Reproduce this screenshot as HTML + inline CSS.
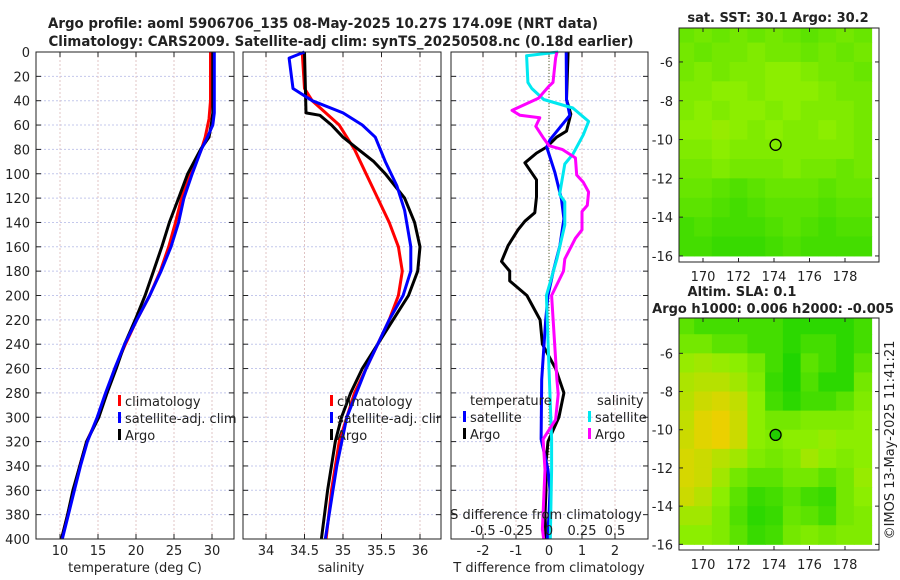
<!DOCTYPE html>
<html><head><meta charset="utf-8">
<style>
html,body{margin:0;padding:0;background:#fff;}
svg{display:block;font-family:"DejaVu Sans","Liberation Sans",sans-serif;}
</style></head>
<body>
<svg id="c" width="900" height="580" viewBox="0 0 900 580" xmlns="http://www.w3.org/2000/svg"></svg>
<script>
// ---------- data ----------
const depthTicks = [0,20,40,60,80,100,120,140,160,180,200,220,240,260,280,300,320,340,360,380,400];
const tempTicks = [10,15,20,25,30];
const salTicks = [34,34.5,35,35.5,36];
const tdiffTicks = [-2,-1,0,1,2];
const sdiffTicks = [-0.5,-0.25,0,0.25,0.5];
const sdiffTickLabels = ['-0.5','-0.25','0','0.25','0.5'];

const tClimDepth = [0,40,55,70,80,100,120,140,160,180,200,220,240,260,280,300,320,340,360,380,400];
const tClimVal   = [29.8,29.8,29.6,29.1,28.6,27.2,26.0,25.2,24.3,23.2,21.8,20.1,18.6,17.2,16.1,15.0,13.5,12.6,11.8,11.0,10.2];
const tSatDepth  = [0,50,60,70,80,100,120,140,160,180,200,220,240,260,280,300,320,340,360,380,400];
const tSatVal    = [30.3,30.3,30.1,29.4,28.6,27.4,26.3,25.6,24.6,23.3,21.8,20.1,18.5,17.2,16.0,14.9,13.6,12.7,11.9,11.1,10.3];
const tArgoDepth = [0,50,60,70,80,100,120,140,160,180,200,220,240,260,280,300,320,340,360,380,400];
const tArgoVal   = [30.1,30.1,29.9,29.6,28.5,26.8,25.6,24.4,23.4,22.3,21.2,19.9,18.5,17.4,16.2,15.1,13.5,12.6,11.7,11.0,10.2];

const sClimDepth = [0,30,40,60,80,100,120,140,160,180,200,220,240,260,280,300,320,360,400];
const sClimVal   = [34.47,34.5,34.6,34.95,35.15,35.3,35.45,35.6,35.72,35.77,35.72,35.6,35.45,35.3,35.15,35.05,34.95,34.85,34.78];
const sSatDepth  = [0,5,30,40,50,60,70,90,110,130,160,180,200,220,260,300,340,400];
const sSatVal    = [34.5,34.3,34.35,34.6,35.0,35.25,35.42,35.55,35.7,35.8,35.88,35.88,35.78,35.6,35.3,35.05,34.92,34.77];
const sArgoDepth = [0,50,52,60,70,80,90,100,120,140,160,180,200,220,240,260,280,300,320,360,400];
const sArgoVal   = [34.5,34.52,34.7,34.85,35.0,35.2,35.4,35.55,35.8,35.93,36.0,35.97,35.85,35.65,35.45,35.25,35.1,34.98,34.9,34.8,34.72];

const dTSatDepth = [0,39,52,72,78,99,121,137,159,180,200,220,269,318,343,360,380,400];
const dTSatVal   = [0.52,0.53,0.63,0.03,-0.07,0.18,0.38,0.45,0.33,0.13,-0.03,-0.1,-0.22,-0.24,-0.03,0.03,0.0,-0.05];
const dTArgoDepth = [0,39,51,65,70,78,83,91,105,119,132,139,146,159,172,180,188,200,220,240,260,280,300,320,340,360,380,400];
const dTArgoVal   = [0.58,0.53,0.66,0.53,0.23,-0.07,-0.38,-0.73,-0.38,-0.38,-0.43,-0.73,-0.94,-1.24,-1.44,-1.19,-1.19,-0.67,-0.27,-0.2,0.2,0.45,0.3,-0.03,-0.1,-0.09,-0.12,-0.09];
const dSSatDepth = [0,3,25,30,39,46,57,68,84,92,117,123,142,170,200,260,318,343,400];
const dSSatVal   = [0.07,-0.17,-0.16,-0.13,-0.04,0.18,0.30,0.26,0.18,0.12,0.08,0.12,0.12,0.06,-0.02,0.0,0.02,0.02,0.01];
const dSArgoDepth = [0,5,25,28,38,48,52,54,61,71,77,80,87,101,107,115,126,131,146,153,170,180,200,269,281,302,318,343,392,400];
const dSArgoVal   = [0.06,0.05,0.03,0.0,-0.08,-0.28,-0.22,-0.07,-0.1,-0.04,0.0,0.1,0.2,0.21,0.26,0.3,0.29,0.25,0.25,0.2,0.12,0.11,0.02,0.06,0.07,0.05,-0.045,-0.03,-0.05,-0.04];

const lonTicks = [170,172,174,176,178];
const latTicks = [-6,-8,-10,-12,-14,-16];
// map grids: rows from north (-4.5) to south (-15.5), cols lon 169..179 (value 0=green,1=yellow)
const sstGrid = [
 [0.35,0.4,0.35,0.4,0.35,0.4,0.35,0.3,0.35,0.4,0.35],
 [0.4,0.35,0.4,0.4,0.45,0.4,0.4,0.35,0.4,0.35,0.4],
 [0.4,0.45,0.4,0.45,0.45,0.5,0.5,0.45,0.4,0.4,0.35],
 [0.45,0.45,0.5,0.5,0.45,0.5,0.5,0.5,0.45,0.4,0.4],
 [0.45,0.5,0.45,0.5,0.5,0.45,0.5,0.45,0.45,0.45,0.4],
 [0.5,0.5,0.55,0.5,0.45,0.5,0.45,0.45,0.5,0.45,0.4],
 [0.45,0.45,0.5,0.45,0.45,0.45,0.45,0.45,0.45,0.45,0.4],
 [0.4,0.4,0.45,0.4,0.4,0.4,0.45,0.4,0.4,0.35,0.4],
 [0.35,0.35,0.3,0.25,0.3,0.35,0.35,0.35,0.3,0.35,0.35],
 [0.3,0.3,0.25,0.2,0.25,0.3,0.3,0.3,0.25,0.3,0.3],
 [0.2,0.25,0.2,0.2,0.2,0.25,0.3,0.25,0.2,0.25,0.25],
 [0.2,0.2,0.15,0.15,0.15,0.2,0.25,0.2,0.2,0.2,0.2]];
const slaGrid = [
 [0.3,0.2,0.2,0.2,0.2,0.2,0.1,0.1,0.1,0.1,0.2],
 [0.4,0.4,0.3,0.3,0.2,0.2,0.1,0.2,0.2,0.1,0.2],
 [0.55,0.6,0.55,0.5,0.4,0.2,0.05,0.3,0.2,0.1,0.3],
 [0.65,0.7,0.7,0.6,0.45,0.15,0.05,0.25,0.1,0.1,0.4],
 [0.7,0.8,0.85,0.75,0.5,0.2,0.1,0.2,0.2,0.3,0.45],
 [0.75,0.9,0.95,0.8,0.5,0.4,0.4,0.45,0.45,0.45,0.5],
 [0.8,0.9,0.95,0.8,0.5,0.45,0.5,0.5,0.55,0.5,0.5],
 [0.85,0.8,0.7,0.6,0.45,0.4,0.45,0.6,0.5,0.45,0.5],
 [0.85,0.8,0.6,0.4,0.3,0.3,0.4,0.4,0.3,0.4,0.55],
 [0.8,0.7,0.5,0.3,0.15,0.2,0.3,0.2,0.15,0.4,0.5],
 [0.6,0.6,0.45,0.25,0.1,0.15,0.35,0.3,0.2,0.4,0.45],
 [0.5,0.5,0.45,0.3,0.15,0.2,0.4,0.45,0.4,0.45,0.45]];
const argoLon = 174.09, argoLat = -10.27;

// ---------- helpers ----------
const svg = document.getElementById('c');
const NS = 'http://www.w3.org/2000/svg';
function el(tag, attrs, parent){
  const e = document.createElementNS(NS, tag);
  for (const k in attrs) e.setAttribute(k, attrs[k]);
  (parent||svg).appendChild(e);
  return e;
}
function txt(x,y,s,size,anchor,weight,parent){
  const t = el('text',{x:x,y:y,'font-size':size,'text-anchor':anchor||'middle','font-weight':weight||'normal',fill:'#222'},parent);
  t.textContent = s; return t;
}
const Y0 = 52, Y1 = 539;
const yD = d => Y0 + d*(Y1-Y0)/400;
const P1 = {l:36,r:234}, P2 = {l:243,r:441}, P3 = {l:451,r:648};
const xT = v => 60 + (v-10)*7.6;
const xS = v => 266 + (v-34)*77.0;
const xDT = v => 549 + v*33;
const xDS = v => 549 + v*132;

function panelFrame(P, name){
  const g = el('g',{});
  
  
  depthTicks.forEach(d=>{
    el('line',{x1:P.l,x2:P.r,y1:yD(d),y2:yD(d),stroke:'#c4c8ec','stroke-width':1,'stroke-dasharray':'2,2'},g);
    el('line',{x1:P.l,x2:P.l+5,y1:yD(d),y2:yD(d),stroke:'#222'},g);
    el('line',{x1:P.r-5,x2:P.r,y1:yD(d),y2:yD(d),stroke:'#222'},g);
  });
  return g;
}
function vgrid(g,P,xs){
  xs.forEach(x=>{
    el('line',{x1:x,x2:x,y1:Y0,y2:Y1,stroke:'#e0c4c4','stroke-width':1,'stroke-dasharray':'2,2'},g);
    el('line',{x1:x,x2:x,y1:Y1-5,y2:Y1,stroke:'#222'},g);
    el('line',{x1:x,x2:x,y1:Y0,y2:Y0+5,stroke:'#222'},g);
  });
}
function border(g,P){
  el('rect',{x:P.l,y:Y0,width:P.r-P.l,height:Y1-Y0,fill:'none',stroke:'#222','stroke-width':1},g);
}
function series(g,depths,vals,xf,color,name,w){
  const pts = depths.map((d,i)=>xf(vals[i]).toFixed(1)+','+yD(d).toFixed(1)).join(' ');
  const p = el('polyline',{points:pts,fill:'none',stroke:color,'stroke-width':w||3,'stroke-linejoin':'round'},g);
  
  
}
function legendEntry(g,x,y,color,label,name){
  const le = el('g',{},g);
  
  
  el('rect',{x:x,y:y-11,width:3,height:11,fill:color},le);
  txt(x+7,y,label,13,'start','normal',le);
}

// titles
const t1 = txt(323,28,'Argo profile: aoml 5906706_135 08-May-2025 10.27S 174.09E (NRT data)',14,'middle','bold');
t1.setAttribute('textLength','550'); t1.setAttribute('lengthAdjust','spacingAndGlyphs');
 
const t2 = txt(341,46,'Climatology: CARS2009. Satellite-adj clim: synTS_20250508.nc (0.18d earlier)',14,'middle','bold');
t2.setAttribute('textLength','585'); t2.setAttribute('lengthAdjust','spacingAndGlyphs');
 

// ---------- panel 1: temperature ----------
const g1 = panelFrame(P1,'temperature-panel');
vgrid(g1,P1,tempTicks.map(xT));
depthTicks.forEach(d=>{ txt(30,yD(d)+5,String(d),13,'end','normal',g1); });
tempTicks.forEach(v=>{ txt(xT(v),555,String(v),13,'middle','normal',g1); });
const xl1 = txt(135,572,'temperature (deg C)',13,'middle','normal',g1);
 
series(g1,tClimDepth,tClimVal,xT,'#ff0000','temp-climatology-line');
series(g1,tArgoDepth,tArgoVal,xT,'#000000','temp-argo-line');
series(g1,tSatDepth,tSatVal,xT,'#0000ff','temp-satellite-line');
legendEntry(g1,118,406,'#ff0000','climatology','legend-climatology');
legendEntry(g1,118,423,'#0000ff','satellite-adj. clim','legend-satellite-adj');
legendEntry(g1,118,440,'#000000','Argo','legend-argo');
border(g1,P1);

// ---------- panel 2: salinity ----------
const g2 = panelFrame(P2,'salinity-panel');
vgrid(g2,P2,salTicks.map(xS));
salTicks.forEach(v=>{ txt(xS(v),555,String(v),13,'middle','normal',g2); });
const xl2 = txt(341,572,'salinity',13,'middle','normal',g2);
 
series(g2,sClimDepth,sClimVal,xS,'#ff0000','sal-climatology-line');
series(g2,sArgoDepth,sArgoVal,xS,'#000000','sal-argo-line');
series(g2,sSatDepth,sSatVal,xS,'#0000ff','sal-satellite-line');
legendEntry(g2,330,406,'#ff0000','climatology','legend-climatology-sal');
legendEntry(g2,330,423,'#0000ff','satellite-adj. clim','legend-satellite-adj-sal');
legendEntry(g2,330,440,'#000000','Argo','legend-argo-sal');
border(g2,P2);
el('rect',{x:441.5,y:400,width:9,height:60,fill:'#fff'});
el('line',{x1:441,x2:441,y1:Y0,y2:Y1,stroke:'#222'});

// ---------- panel 3: differences ----------
const g3 = panelFrame(P3,'difference-panel');
vgrid(g3,P3,tdiffTicks.map(xDT));
el('line',{x1:549,x2:549,y1:Y0,y2:Y1,stroke:'#556633','stroke-width':1,'stroke-dasharray':'1,2'},g3);
tdiffTicks.forEach(v=>{ txt(xDT(v),555,String(v),13,'middle','normal',g3); });
const xl3 = txt(549,572,'T difference from climatology',13,'middle','normal',g3);
 
series(g3,dTArgoDepth,dTArgoVal,xDT,'#000000','tdiff-argo-line');
series(g3,dTSatDepth,dTSatVal,xDT,'#0000ff','tdiff-satellite-line');
series(g3,dSSatDepth,dSSatVal,xDS,'#00e8f0','sdiff-satellite-line');
series(g3,dSArgoDepth,dSArgoVal,xDS,'#ff00ff','sdiff-argo-line');
const sl = txt(546,519,'S difference from climatology',13,'middle','normal',g3);
 
sdiffTicks.forEach((v,i)=>{ txt(xDS(v),535,sdiffTickLabels[i],13,'middle','normal',g3); });
txt(470,405,'temperature',13,'start','normal',g3);
legendEntry(g3,463,422,'#0000ff','satellite','legend-tdiff-satellite');
legendEntry(g3,463,439,'#000000','Argo','legend-tdiff-argo');
txt(597,405,'salinity',13,'start','normal',g3);
legendEntry(g3,588,422,'#00e8f0','satellite','legend-sdiff-satellite');
legendEntry(g3,588,439,'#ff00ff','Argo','legend-sdiff-argo');
border(g3,P3);

// ---------- maps ----------
const ML = 679, MR = 879;
const xLon = v => 703 + (v-170)*17.75;
function colorOf(v){
  let r,g,b;
  if (v < 0.5){ const t=v/0.5; r=Math.round(20+t*(140-20)); g=Math.round(210+t*(238-210)); b=0; }
  else { const t=(v-0.5)/0.5; r=Math.round(140+t*(245-140)); g=Math.round(238-t*(238-205)); b=0; }
  return 'rgb('+r+','+g+','+b+')';
}
function drawMap(name,top,bot,latTop,latPerPx,grid,dotFill){
  const yLat = v => top + (latTop - v)*latPerPx;
  const g = el('g',{});
  
  
  const cs = el('g',{},g);
  
  
  grid.forEach((row,ri)=>{
    row.forEach((v,ci)=>{
      const lat0 = -4 - ri, lon0 = 168.5 + ci;
      let x0 = Math.max(ML, xLon(lon0)), x1 = Math.min(MR, xLon(lon0+1));
      let y0 = Math.max(top, yLat(lat0)), y1 = Math.min(bot, yLat(lat0-1));
      if (x1>x0 && y1>y0) el('rect',{x:x0,y:y0,width:x1-x0+0.5,height:y1-y0+0.5,fill:colorOf(v)},cs);
    });
  });
  el('rect',{x:ML,y:top,width:MR-ML,height:bot-top,fill:'none',stroke:'#222'},g);
  latTicks.forEach(v=>{
    const y = yLat(v);
    el('line',{x1:ML,x2:ML+4,y1:y,y2:y,stroke:'#222'},g);
    el('line',{x1:MR-4,x2:MR,y1:y,y2:y,stroke:'#222'},g);
    txt(673,y+5,String(v),13,'end','normal',g);
  });
  lonTicks.forEach(v=>{
    const x = xLon(v);
    el('line',{x1:x,x2:x,y1:bot-4,y2:bot,stroke:'#222'},g);
    el('line',{x1:x,x2:x,y1:top,y2:top+4,stroke:'#222'},g);
    txt(x,bot+19,String(v),13,'middle','normal',g);
  });
  const m = el('circle',{cx:xLon(argoLon),cy:yLat(argoLat),r:5.5,fill:dotFill,stroke:'#000','stroke-width':1.3},g);
  
  
}
drawMap('sst-map',28,262,-4.25,19.4,sstGrid,'none');
drawMap('sla-map',318,550,-4.15,19.1,slaGrid,'#22cc00');
const mt1 = txt(778,22,'sat. SST: 30.1 Argo: 30.2',13,'middle','bold');
 
const mt2 = txt(742,296,'Altim. SLA: 0.1',13,'middle','bold');
 
const mt3 = txt(773,313,'Argo h1000: 0.006 h2000: -0.005',13,'middle','bold');
 
const cr = txt(0,0,'©IMOS 13-May-2025 11:41:21',13,'middle','normal');
cr.setAttribute('transform','translate(894,440) rotate(-90)');
 
</script>
</body></html>
